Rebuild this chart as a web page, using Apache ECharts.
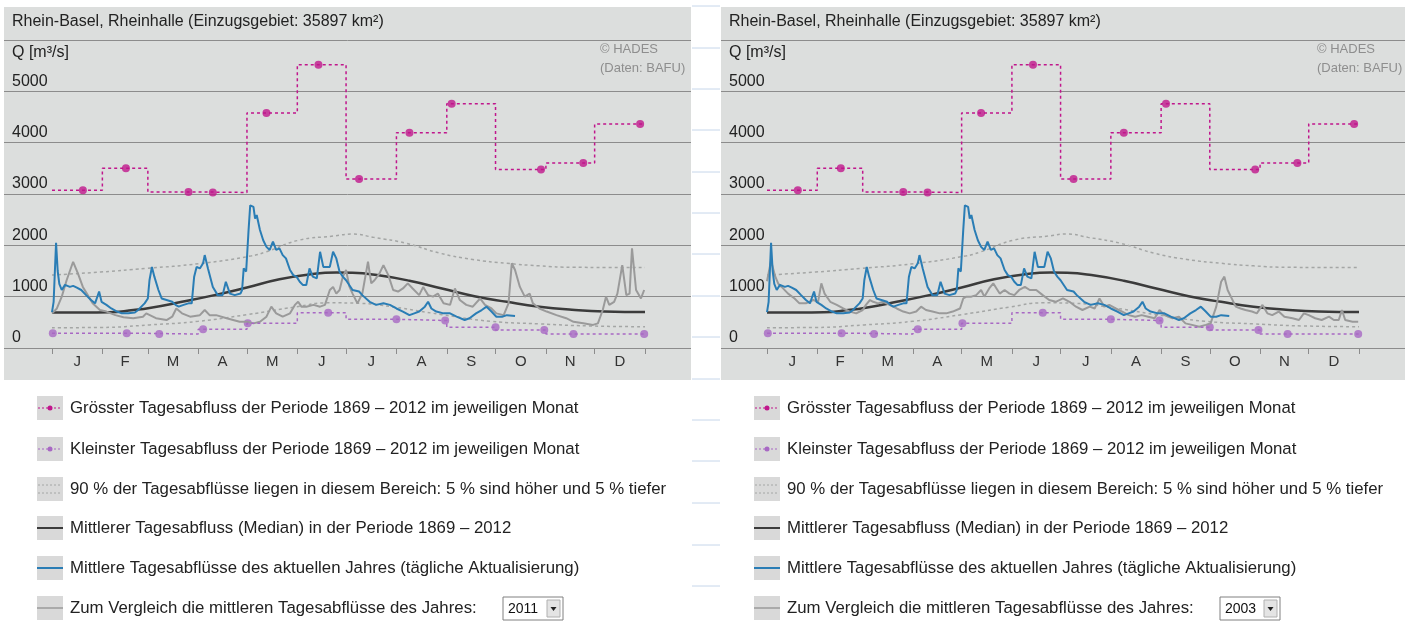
<!DOCTYPE html>
<html>
<head>
<meta charset="utf-8">
<title>Rhein-Basel, Rheinhalle</title>
<script src="https://cdn.jsdelivr.net/npm/echarts@6/dist/echarts.min.js"></script>
<style>
  html, body { margin: 0; padding: 0; background: #fff; }
  #chart { width: 1407px; height: 621px; }
</style>
</head>
<body>
<div id="chart"></div>
<script>
// Monate und Achsen
const monate = ['J', 'F', 'M', 'A', 'M', 'J', 'J', 'A', 'S', 'O', 'N', 'D'];
const monatsStart = [0, 31, 59, 90, 120, 151, 181, 212, 243, 273, 304, 334, 365];
const yTicks = [0, 1000, 2000, 3000, 4000, 5000, 6000];

// Grösster / kleinster Tagesabfluss 1869-2012 pro Monat (Wert + Tag des Auftretens)
const maxQ = [3075, 3500, 3040, 3030, 4580, 5520, 3290, 4195, 4760, 3475, 3605, 4365];
const maxTag = [19, 45.5, 84, 99, 132, 164, 189, 220, 246, 301, 327, 362];
const minQ = [285, 285, 272, 365, 480, 687, 560, 535, 405, 350, 272, 272];
const minTag = [0.5, 46, 66, 93, 120.5, 170, 212, 242, 273, 303, 321, 364.5];

// 95 % / 5 % Grenze und Median [Tag, Q]
const q95 = [[0, 1420], [30, 1480], [58, 1550], [91, 1645], [122, 1790], [132, 1875], [152, 2100], [173, 2180], [185, 2220], [198, 2155], [218, 2040], [239, 1845], [259, 1725], [280, 1650], [300, 1600], [321, 1572], [341, 1570], [365, 1570]];
const q05 = [[0, 395], [30, 400], [60, 450], [90, 520], [120, 650], [150, 800], [170, 880], [190, 870], [210, 800], [240, 650], [270, 520], [300, 470], [330, 430], [365, 415]];
const median = [[0, 690], [20, 690], [35, 695], [50, 740], [60, 780], [80, 900], [100, 1030], [120, 1180], [140, 1340], [160, 1440], [175, 1470], [185, 1465], [200, 1420], [220, 1310], [240, 1160], [260, 1010], [280, 900], [300, 805], [320, 745], [340, 710], [365, 700]];

// Mittlere Tagesabflüsse des aktuellen Jahres
const aktuell = [[0, 700], [1, 900], [2.5, 2050], [3.5, 1500], [4.5, 1250], [6, 1130], [8, 1230], [9, 1260], [11, 1190], [13, 1210], [15, 1180], [18, 1130], [21, 1030], [24, 935], [26.5, 870], [29, 1100], [30.5, 900], [33.5, 840], [36.5, 770], [40, 710], [43, 675], [47, 675], [51, 690], [53, 740], [55, 805], [57, 870], [59, 965], [60, 1320], [61.5, 1580], [63, 1390], [65.5, 1130], [67.5, 965], [70.5, 935], [74, 900], [76, 840], [78, 805], [81, 840], [84, 870], [86, 870], [87.5, 1390], [89, 1580], [91, 1550], [93, 1650], [94, 1810], [96, 1550], [99, 1190], [102, 1030], [105, 1030], [107, 1290], [109.5, 1060], [112.5, 1030], [116, 1060], [117, 1130], [118, 1550], [119.5, 1490], [121, 2300], [122, 2780], [124, 2750], [125, 2520], [126, 2590], [128, 2300], [130, 2100], [132, 1970], [134, 1910], [136, 2070], [138, 1910], [140, 1940], [142, 1810], [144, 1745], [146.5, 1520], [148.5, 1420], [150.5, 1390], [152.5, 1290], [154.5, 1225], [156.5, 1225], [158.5, 1550], [160.5, 1390], [163, 1355], [165, 1875], [167, 1580], [169, 1580], [171, 1580], [173, 1875], [175, 1745], [177, 1485], [179, 1390], [181, 1320], [185, 1130], [189, 1100], [191, 1030], [195.5, 900], [199.5, 840], [204, 870], [208, 840], [212, 770], [216, 710], [220, 640], [223, 675], [226, 710], [229.5, 805], [231.5, 900], [233.5, 770], [236.5, 710], [241, 675], [245, 675], [249, 610], [254, 545], [257, 580], [261, 675], [264.5, 740], [267.5, 805], [270.5, 710], [273.5, 610], [277, 610], [280, 640], [285, 625]];

// Vergleichsjahre
const jahr2011 = [[0, 675], [3, 770], [6, 1000], [9, 1320], [11, 1500], [13, 1680], [16, 1450], [19, 1190], [22, 1030], [25, 870], [29.5, 740], [33.5, 710], [39, 640], [44, 600], [50, 580], [56, 610], [58, 675], [64, 580], [70.5, 545], [74, 610], [76.5, 770], [80, 675], [85, 610], [91, 640], [94, 740], [97, 640], [101, 640], [107.5, 580], [111.5, 545], [115.5, 510], [120, 510], [124, 480], [128, 510], [132, 610], [135, 805], [138, 675], [142, 610], [146.5, 675], [149.5, 840], [151.5, 900], [153.5, 805], [156.5, 805], [161, 840], [165, 805], [168, 840], [171, 1130], [173, 1190], [175, 1060], [177, 1130], [179, 1390], [181, 1520], [183, 1200], [185, 1060], [188, 870], [191, 1060], [194.5, 1680], [196.5, 1260], [198.5, 1320], [201.5, 1450], [204, 1615], [207, 1420], [210, 1130], [213, 1100], [216, 1160], [219, 1260], [222, 1160], [226, 1030], [228.5, 1190], [231.5, 1030], [234.5, 1000], [237.5, 1060], [241, 870], [245, 840], [248, 1160], [251, 935], [255, 840], [259, 805], [263.5, 965], [266.5, 840], [270.5, 770], [273.5, 675], [278, 640], [281, 870], [283, 1650], [285, 1520], [288, 1190], [291, 1000], [294, 1060], [296, 870], [300, 770], [304.5, 710], [310.5, 640], [316.5, 580], [321, 510], [327, 480], [333, 450], [336, 480], [339, 740], [341, 1000], [343, 840], [346, 900], [348, 1060], [351, 1615], [353.5, 1030], [355.5, 1060], [357, 1940], [359.5, 1130], [362.5, 965], [364.5, 1130]];
const jahr2003 = [[0, 1300], [2.5, 1700], [5, 1400], [7, 1250], [9, 1190], [13, 1060], [17, 965], [20, 870], [24, 870], [28.5, 935], [31.5, 900], [33.5, 1260], [35.5, 1060], [39, 900], [43, 840], [47, 770], [51, 710], [55, 675], [59, 740], [61, 840], [63.5, 935], [65.5, 900], [68.5, 870], [71.5, 900], [75.5, 840], [80, 770], [84, 710], [88, 675], [92, 710], [95, 805], [98, 740], [102, 710], [106.5, 675], [110.5, 675], [114.5, 710], [119, 770], [121, 965], [123, 1000], [126, 1000], [129, 1030], [132, 1130], [134, 1000], [137, 1160], [139.5, 1260], [141.5, 1160], [143.5, 1060], [146.5, 1130], [149.5, 1060], [152.5, 1030], [155.5, 1130], [159, 1190], [162, 1130], [166, 1130], [170, 1030], [174, 935], [178, 900], [182.5, 965], [186.5, 900], [190.5, 805], [194.5, 740], [199, 805], [202, 770], [205, 965], [208, 805], [211, 840], [215, 770], [219, 710], [223, 640], [227, 610], [231, 640], [235, 610], [239, 580], [242, 740], [245, 640], [250, 580], [254, 610], [258, 480], [262, 450], [266.5, 415], [270.5, 450], [273.5, 480], [277, 805], [280, 1290], [282, 1390], [284, 1130], [286, 1000], [289, 805], [292, 770], [295, 740], [299, 710], [302, 675], [305.5, 840], [308.5, 675], [311.5, 640], [315.5, 710], [319, 610], [324, 580], [328, 545], [331, 675], [334, 640], [338, 580], [342, 545], [346.5, 610], [349.5, 545], [352.5, 545], [354.5, 740], [356.5, 545], [361, 510], [364.5, 510]];

const legendeTexte = [
  'Grösster Tagesabfluss der Periode 1869 – 2012 im jeweiligen Monat',
  'Kleinster Tagesabfluss der Periode 1869 – 2012 im jeweiligen Monat',
  '90 % der Tagesabflüsse liegen in diesem Bereich: 5 % sind höher und 5 % tiefer',
  'Mittlerer Tagesabfluss (Median) in der Periode 1869 – 2012',
  'Mittlere Tagesabflüsse des aktuellen Jahres (tägliche Aktualisierung)',
  'Zum Vergleich die mittleren Tagesabflüsse des Jahres:'
];

const FONT = '"Liberation Sans", Arial, sans-serif';
const C = {
  bg: '#dcdedd', grid: '#8c8c8c', text: '#222',
  max: '#c0168c', min: '#a868c4', band: '#a4a6a5',
  median: '#3b3b3b', blue: '#2a7db5', gray: '#9a9a9a'
};

const panels = [
  { x: 4, w: 687, dx: 52, dw: 593, jahr: '2011', vergleich: jahr2011 },
  { x: 721, w: 684, dx: 767, dw: 592, jahr: '2003', vergleich: jahr2003 }
];

const mitten = monate.map((m, i) => (monatsStart[i] + monatsStart[i + 1]) / 2);

function stufen(werte) {
  const d = werte.map((v, i) => [monatsStart[i], v]);
  d.push([365, werte[11]]);
  return d;
}

const chart = echarts.init(document.getElementById('chart'));
const grid = [], xAxis = [], yAxis = [], series = [], graphic = [];

panels.forEach((p, k) => {
  const g0 = k * 2, g1 = k * 2 + 1;
  // Hintergrund-Gitter über die ganze Breite (Rasterlinien + Beschriftung)
  grid.push({ left: p.x, width: p.w, top: 40, height: 308 });
  xAxis.push({ gridIndex: g0, type: 'value', show: false, min: 0, max: 1 });
  yAxis.push({
    gridIndex: g0, type: 'value', min: 0, max: 6000, interval: 1000,
    axisLine: { show: false }, axisTick: { show: false },
    splitLine: { show: true, lineStyle: { color: C.grid, width: 1 } },
    axisLabel: {
      inside: true, margin: 8, color: C.text, fontSize: 16, fontFamily: FONT,
      verticalAlign: 'bottom', padding: [0, 0, 2, 0],
      formatter: v => (v === 6000 ? '' : String(v))
    }
  });
  // Datengitter
  grid.push({ left: p.dx, width: p.dw, top: 40, height: 308 });
  xAxis.push({
    gridIndex: g1, type: 'value', min: 0, max: 365,
    axisLine: { show: false },
    splitLine: { show: false },
    axisTick: { show: true, customValues: monatsStart, length: 6, lineStyle: { color: C.grid } },
    axisLabel: {
      customValues: mitten, margin: 6, color: '#333', fontSize: 15, fontFamily: FONT,
      formatter: v => monate[mitten.indexOf(v)] || ''
    }
  });
  yAxis.push({ gridIndex: g1, type: 'value', min: 0, max: 6000, show: false });

  const ax = { xAxisIndex: g1, yAxisIndex: g1, silent: true, animation: false };
  series.push(
    Object.assign({ type: 'line', data: q95, smooth: true, showSymbol: false, lineStyle: { color: C.band, width: 1.5, type: [3, 3] } }, ax),
    Object.assign({ type: 'line', data: q05, smooth: true, showSymbol: false, lineStyle: { color: C.band, width: 1.5, type: [3, 3] } }, ax),
    Object.assign({ type: 'line', data: median, smooth: true, showSymbol: false, lineStyle: { color: C.median, width: 2.5 } }, ax),
    Object.assign({ type: 'line', data: p.vergleich, showSymbol: false, lineStyle: { color: C.gray, width: 2 } }, ax),
    Object.assign({ type: 'line', data: aktuell, showSymbol: false, lineStyle: { color: C.blue, width: 2 } }, ax),
    Object.assign({ type: 'line', step: 'end', data: stufen(maxQ), showSymbol: false, lineStyle: { color: C.max, width: 1.5, type: [3, 3] } }, ax),
    Object.assign({ type: 'scatter', data: maxTag.map((t, i) => [t, maxQ[i]]), symbolSize: 8, itemStyle: { color: C.max } }, ax),
    Object.assign({ type: 'line', step: 'end', data: stufen(minQ), showSymbol: false, lineStyle: { color: C.min, width: 1.5, type: [3, 3] } }, ax),
    Object.assign({ type: 'scatter', data: minTag.map((t, i) => [t, minQ[i]]), symbolSize: 8, itemStyle: { color: C.min } }, ax)
  );

  // Panel-Hintergrund und Texte
  graphic.push(
    { type: 'rect', silent: true, z: -10, shape: { x: p.x, y: 7, width: p.w, height: 373 }, style: { fill: C.bg } },
    { type: 'text', silent: true, x: p.x + 8, y: 22, style: { text: 'Rhein-Basel, Rheinhalle (Einzugsgebiet: 35897 km²)', font: '16px ' + FONT, fill: C.text, verticalAlign: 'middle' } },
    { type: 'text', silent: true, x: p.x + 8, y: 53, style: { text: 'Q [m³/s]', font: '16px ' + FONT, fill: C.text, verticalAlign: 'middle' } },
    { type: 'text', silent: true, x: p.x + 596, y: 49, style: { text: '© HADES', font: '13px ' + FONT, fill: '#8e8e8e', verticalAlign: 'middle' } },
    { type: 'text', silent: true, x: p.x + 596, y: 68, style: { text: '(Daten: BAFU)', font: '13px ' + FONT, fill: '#8e8e8e', verticalAlign: 'middle' } }
  );

  // Legende
  const bx = p.x + 33, tx = p.x + 66;
  const rows = [408, 449, 489, 528, 568, 608];
  rows.forEach((ry, i) => {
    graphic.push({ type: 'rect', silent: true, shape: { x: bx, y: ry - 12, width: 26, height: 24 }, style: { fill: '#d9d9d9' } });
    graphic.push({ type: 'text', silent: true, x: tx, y: ry, style: { text: legendeTexte[i], font: '16.8px ' + FONT, fill: C.text, verticalAlign: 'middle' } });
  });
  [[C.max, rows[0]], [C.min, rows[1]]].forEach(([c, ry]) => {
    graphic.push(
      { type: 'line', silent: true, shape: { x1: bx + 1, y1: ry, x2: bx + 25, y2: ry }, style: { stroke: c, lineWidth: 1.2, lineDash: [2, 2] } },
      { type: 'circle', silent: true, shape: { cx: bx + 13, cy: ry, r: 2.5 }, style: { fill: c } }
    );
  });
  [-4, 4].forEach(o => graphic.push({ type: 'line', silent: true, shape: { x1: bx + 1, y1: rows[2] + o, x2: bx + 25, y2: rows[2] + o }, style: { stroke: C.band, lineWidth: 1, lineDash: [2, 2] } }));
  graphic.push(
    { type: 'line', silent: true, shape: { x1: bx, y1: rows[3], x2: bx + 26, y2: rows[3] }, style: { stroke: C.median, lineWidth: 2 } },
    { type: 'line', silent: true, shape: { x1: bx, y1: rows[4], x2: bx + 26, y2: rows[4] }, style: { stroke: C.blue, lineWidth: 2 } },
    { type: 'line', silent: true, shape: { x1: bx, y1: rows[5], x2: bx + 26, y2: rows[5] }, style: { stroke: C.gray, lineWidth: 1.5 } }
  );
  // Auswahlfeld Jahr
  const sx = p.x + 499;
  graphic.push(
    { type: 'rect', silent: true, shape: { x: sx, y: 597, width: 60, height: 23 }, style: { fill: '#fff', stroke: '#808080', lineWidth: 1 } },
    { type: 'text', silent: true, x: sx + 5, y: 609, style: { text: p.jahr, font: '14px ' + FONT, fill: '#111', verticalAlign: 'middle' } },
    { type: 'rect', silent: true, shape: { x: sx + 44, y: 600, width: 13, height: 17 }, style: { fill: '#e4e4e4', stroke: '#b0b0b0', lineWidth: 1 } },
    { type: 'polygon', silent: true, shape: { points: [[sx + 47.5, 607], [sx + 53.5, 607], [sx + 50.5, 611]] }, style: { fill: '#222' } }
  );
});

// kleine Trennlinien zwischen den Panels
[6, 48, 89, 130, 172, 213, 254, 296, 337, 379, 420, 461, 503, 545, 586].forEach(y => {
  graphic.push({ type: 'line', silent: true, shape: { x1: 692, y1: y, x2: 720, y2: y }, style: { stroke: '#c6d6ea', lineWidth: 1 } });
});

chart.setOption({
  backgroundColor: '#fff',
  animation: false,
  grid, xAxis, yAxis, series, graphic
});
</script>
</body>
</html>
